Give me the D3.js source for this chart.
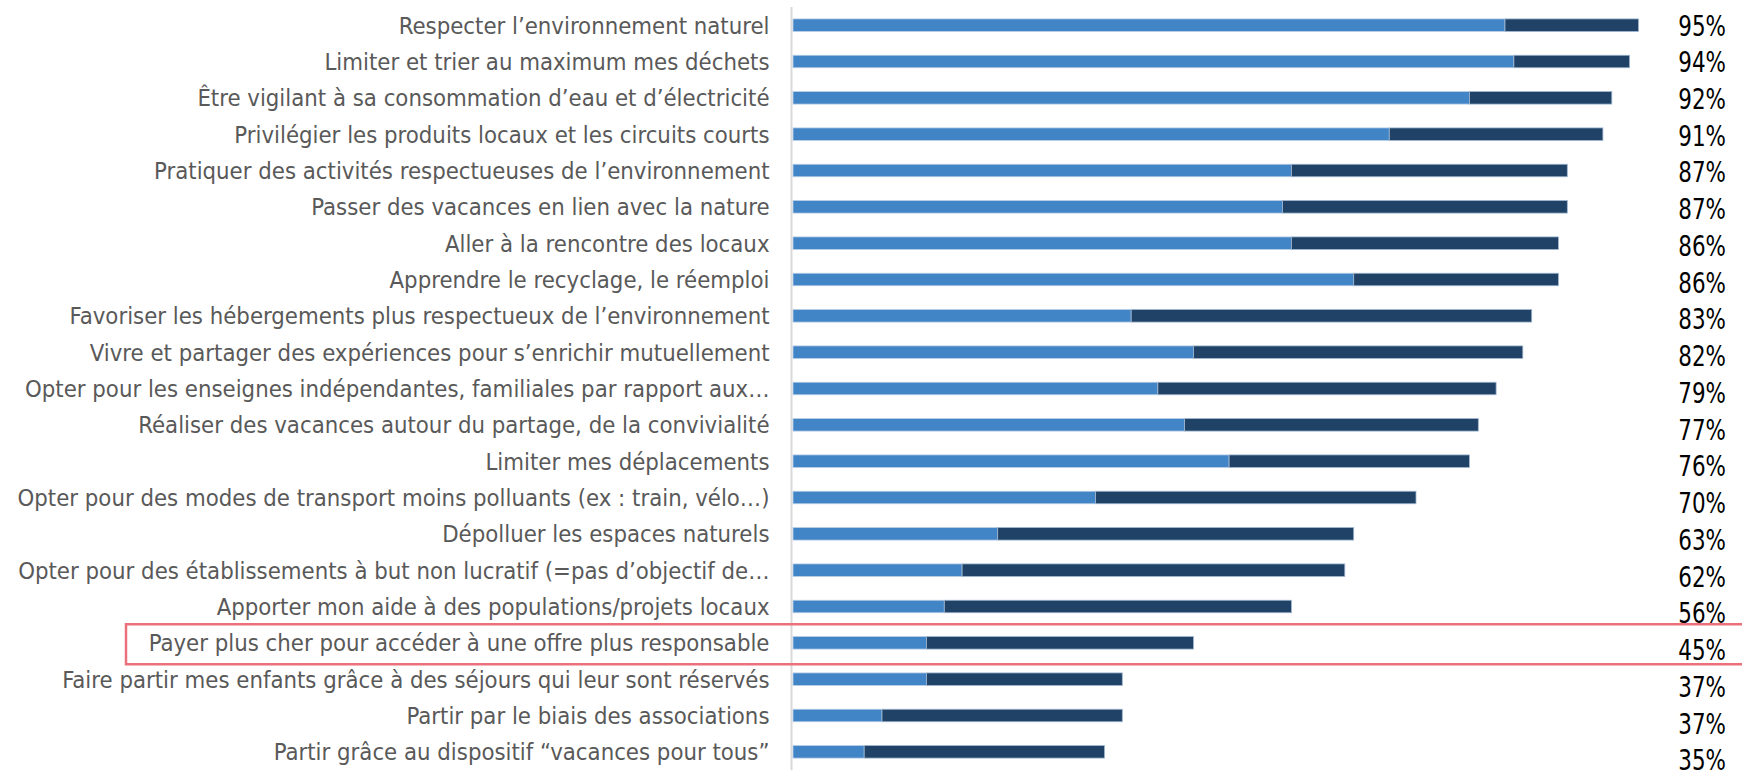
<!DOCTYPE html>
<html lang="fr">
<head>
<meta charset="utf-8">
<script src="https://cdn.jsdelivr.net/npm/d3@7"></script>
<style>
  html, body { margin: 0; padding: 0; background: #ffffff; }
  svg { display: block; }
  .cat { font-family: "DejaVu Sans Condensed", "DejaVu Sans", sans-serif; fill: #595959; }
  .pct { font-family: "DejaVu Sans Condensed", "DejaVu Sans", sans-serif; fill: #000000; }
</style>
</head>
<body>
<svg id="chart" width="1742" height="774"></svg>
<script>
// Actions, top to bottom
const categories = [
  "Respecter l’environnement naturel",
  "Limiter et trier au maximum mes déchets",
  "Être vigilant à sa consommation d’eau et d’électricité",
  "Privilégier les produits locaux et les circuits courts",
  "Pratiquer des activités respectueuses de l’environnement",
  "Passer des vacances en lien avec la nature",
  "Aller à la rencontre des locaux",
  "Apprendre le recyclage, le réemploi",
  "Favoriser les hébergements plus respectueux de l’environnement",
  "Vivre et partager des expériences pour s’enrichir mutuellement",
  "Opter pour les enseignes indépendantes, familiales par rapport aux…",
  "Réaliser des vacances autour du partage, de la convivialité",
  "Limiter mes déplacements",
  "Opter pour des modes de transport moins polluants (ex : train, vélo…)",
  "Dépolluer les espaces naturels",
  "Opter pour des établissements à but non lucratif (=pas d’objectif de…",
  "Apporter mon aide à des populations/projets locaux",
  "Payer plus cher pour accéder à une offre plus responsable",
  "Faire partir mes enfants grâce à des séjours qui leur sont réservés",
  "Partir par le biais des associations",
  "Partir grâce au dispositif “vacances pour tous”"
];

// Totals (%), as printed at the right of each bar
const totals = [95, 94, 92, 91, 87, 87, 86, 86, 83, 82, 79, 77, 76, 70, 63, 62, 56, 45, 37, 37, 35];

// First (light blue) part of each bar, in %
const firstPart = [80, 81, 76, 67, 56, 55, 56, 63, 38, 45, 41, 44, 49, 34, 23, 19, 17, 15, 15, 10, 8];

// Second (dark blue) part = total minus first part
const secondPart = totals.map((t, i) => t - firstPart[i]);

// Highlighted action
const highlighted = "Payer plus cher pour accéder à une offre plus responsable";

const svg = d3.select("#chart");

const x = d3.scaleLinear().domain([0, 100]).range([793, 1683]);
const y = d3.scaleBand()
  .domain(categories)
  .range([7, 770])
  .paddingInner(0.656)
  .paddingOuter(0.328);
const yLabel = d3.scalePoint().domain(categories).range([25.3, 760]);

const rows = categories.map((c, i) => ({
  cat: c, total: totals[i], a: firstPart[i], b: secondPart[i]
}));

// Vertical axis line
svg.append("line")
  .attr("x1", 791.5).attr("x2", 791.5)
  .attr("y1", y.range()[0]).attr("y2", y.range()[1])
  .attr("stroke", "#d9d9d9").attr("stroke-width", 2);

// Stacked bars
const g = svg.append("g");
g.selectAll("rect.a").data(rows).join("rect")
  .attr("class", "a")
  .attr("x", x(0))
  .attr("y", d => y(d.cat))
  .attr("width", d => x(d.a) - x(0))
  .attr("height", y.bandwidth())
  .attr("fill", "#4285c6")
  .attr("stroke", "#b7cde6").attr("stroke-width", 0.8);

g.selectAll("rect.b").data(rows).join("rect")
  .attr("class", "b")
  .attr("x", d => x(d.a))
  .attr("y", d => y(d.cat))
  .attr("width", d => x(d.a + d.b) - x(d.a))
  .attr("height", y.bandwidth())
  .attr("fill", "#204266")
  .attr("stroke", "#9fb6d0").attr("stroke-width", 0.8);

// Category labels
svg.append("g").selectAll("text").data(rows).join("text")
  .attr("class", "cat")
  .attr("x", 769.5)
  .attr("y", d => y(d.cat) + y.bandwidth() / 2)
  .attr("dy", "0.36em")
  .attr("text-anchor", "end")
  .attr("font-size", 23.7)
  .text(d => d.cat);

// Totals on the right (narrow figures)
svg.append("g").selectAll("text").data(rows).join("text")
  .attr("class", "pct")
  .attr("transform", d => `translate(1726,${yLabel(d.cat)}) scale(0.84,1)`)
  .attr("dy", "0.36em")
  .attr("text-anchor", "end")
  .attr("font-size", 28.4)
  .text(d => d.total + "%");

// Highlight frame around one action, open on the right edge
const hy = y(highlighted) + y.bandwidth() / 2;
svg.append("path")
  .attr("d", `M1745,${hy - 18.5}H126V${hy + 21.5}H1745`)
  .attr("fill", "none")
  .attr("stroke", "#ec707c")
  .attr("stroke-width", 2.5);
</script>
</body>
</html>
